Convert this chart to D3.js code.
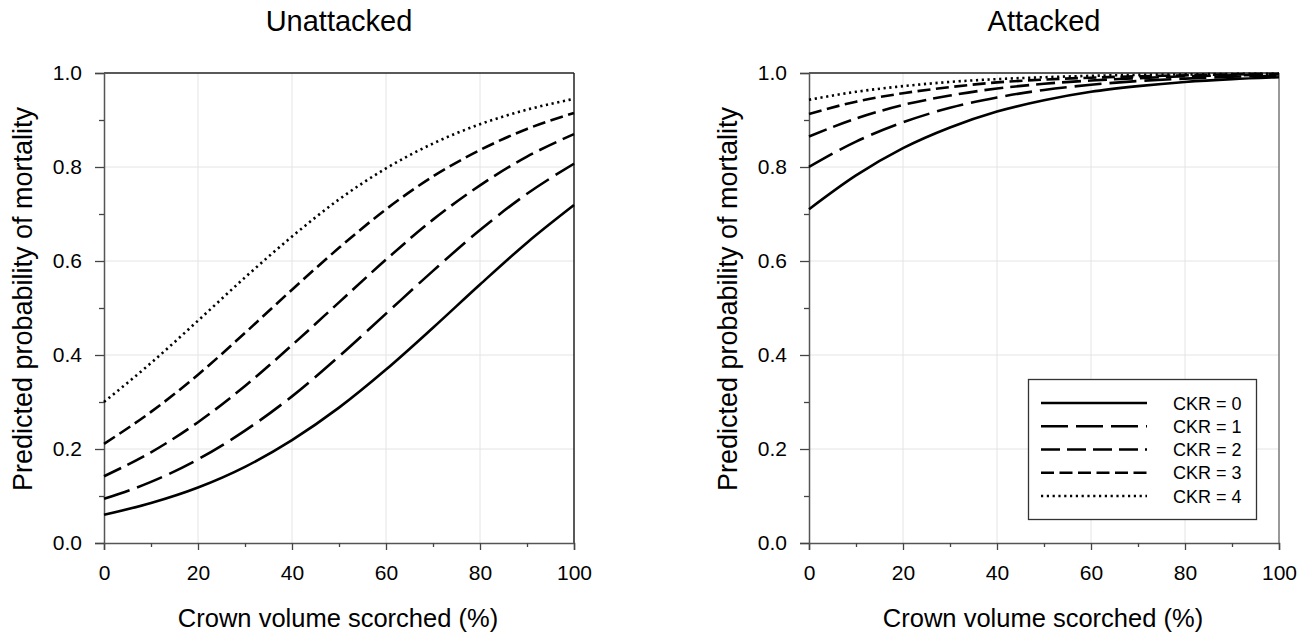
<!DOCTYPE html>
<html>
<head>
<meta charset="utf-8">
<script src="https://cdn.jsdelivr.net/npm/d3@7"></script>
<style>
  html, body { margin: 0; padding: 0; background: #fff; }
  svg { display: block; }
  text { font-family: "Liberation Sans", Arial, sans-serif; fill: #000; }
</style>
</head>
<body>
<svg id="chart" width="1311" height="637"></svg>
<script>
// ---- data ----
const crownScorch = [0, 10, 20, 30, 40, 50, 60, 70, 80, 90, 100];
const ckrLabels = ["CKR = 0", "CKR = 1", "CKR = 2", "CKR = 3", "CKR = 4"];
const panelTitles = ["Unattacked", "Attacked"];
const xTicks = [0, 20, 40, 60, 80, 100];
const yTicks = [0.0, 0.2, 0.4, 0.6, 0.8, 1.0];

const unattackedCKR0 = [0.060, 0.085, 0.118, 0.162, 0.219, 0.288, 0.369, 0.458, 0.550, 0.639, 0.719];
const unattackedCKR1 = [0.094, 0.130, 0.178, 0.239, 0.312, 0.397, 0.488, 0.579, 0.666, 0.743, 0.807];
const unattackedCKR2 = [0.142, 0.193, 0.257, 0.334, 0.421, 0.512, 0.603, 0.688, 0.761, 0.822, 0.870];
const unattackedCKR3 = [0.211, 0.279, 0.358, 0.447, 0.539, 0.628, 0.710, 0.780, 0.836, 0.881, 0.915];
const unattackedCKR4 = [0.300, 0.383, 0.473, 0.565, 0.652, 0.731, 0.797, 0.850, 0.891, 0.922, 0.945];

const attackedCKR0 = [0.710, 0.782, 0.840, 0.884, 0.918, 0.942, 0.960, 0.972, 0.981, 0.987, 0.991];
const attackedCKR1 = [0.800, 0.854, 0.895, 0.926, 0.948, 0.964, 0.975, 0.983, 0.988, 0.992, 0.994];
const attackedCKR2 = [0.865, 0.903, 0.932, 0.952, 0.967, 0.977, 0.984, 0.989, 0.993, 0.995, 0.997];
const attackedCKR3 = [0.913, 0.939, 0.957, 0.970, 0.980, 0.986, 0.990, 0.993, 0.995, 0.997, 0.998];
const attackedCKR4 = [0.943, 0.960, 0.972, 0.981, 0.987, 0.991, 0.994, 0.996, 0.997, 0.998, 0.9985];

const panelSeries = [
  [unattackedCKR0, unattackedCKR1, unattackedCKR2, unattackedCKR3, unattackedCKR4],
  [attackedCKR0, attackedCKR1, attackedCKR2, attackedCKR3, attackedCKR4]
];

// ---- styles ----
const dashes = [null, "27,8", "19,7", "13,5.5", "2.2,3.6"];
const lineW = 2.6;
const tickFont = 21;

const svg = d3.select("#chart");
const panelLeft = [104, 809];
const pw = 470, yTop = 73, yBottom = 543;

panelSeries.forEach((series, p) => {
  const x0 = panelLeft[p];
  const x = d3.scaleLinear().domain([0, 100]).range([x0, x0 + pw]);
  const y = d3.scaleLinear().domain([0, 1]).range([yBottom, yTop]);
  const g = svg.append("g");

  // grid
  g.selectAll(".gx").data([20, 40, 60, 80]).enter().append("line")
    .attr("x1", d => x(d)).attr("x2", d => x(d)).attr("y1", yTop).attr("y2", yBottom)
    .attr("stroke", "#e4e4e4").attr("stroke-width", 1);
  g.selectAll(".gy").data([0.2, 0.4, 0.6, 0.8]).enter().append("line")
    .attr("y1", d => y(d)).attr("y2", d => y(d)).attr("x1", x0).attr("x2", x0 + pw)
    .attr("stroke", "#e4e4e4").attr("stroke-width", 1);

  // frame top/right
  g.append("line").attr("x1", x0).attr("x2", x0 + pw).attr("y1", yTop).attr("y2", yTop)
    .attr("stroke", "#222").attr("stroke-width", 1.5);
  g.append("line").attr("x1", x0 + pw).attr("x2", x0 + pw).attr("y1", yTop).attr("y2", yBottom)
    .attr("stroke", p === 0 ? "#222" : "#777").attr("stroke-width", 1.5);

  // x axis
  const xAxis = d3.axisBottom(x).tickValues(xTicks).tickSize(7).tickPadding(15).tickFormat(d3.format("d"));
  const xMinor = d3.axisBottom(x).tickValues([10, 30, 50, 70, 90]).tickSize(4).tickFormat("");
  const gxA = g.append("g").attr("transform", `translate(0,${yBottom})`).call(xAxis);
  g.append("g").attr("transform", `translate(0,${yBottom})`).call(xMinor).select(".domain").remove();
  gxA.selectAll("text").attr("font-size", tickFont).attr("font-family", "Liberation Sans, Arial, sans-serif").attr("fill", "#000");

  // y axis
  const yAxis = d3.axisLeft(y).tickValues(yTicks).tickSize(9).tickPadding(13).tickFormat(d3.format(".1f"));
  const yMinor = d3.axisLeft(y).tickValues([0.1, 0.3, 0.5, 0.7, 0.9]).tickSize(5).tickFormat("");
  const gyA = g.append("g").attr("transform", `translate(${x0},0)`).call(yAxis);
  g.append("g").attr("transform", `translate(${x0},0)`).call(yMinor).select(".domain").remove();
  gyA.selectAll("text").attr("font-size", tickFont).attr("font-family", "Liberation Sans, Arial, sans-serif").attr("fill", "#000");

  g.selectAll(".domain").attr("stroke", "#555").attr("stroke-width", 1.5);
  g.selectAll(".tick line").attr("stroke", "#444").attr("stroke-width", 1.3);

  // curves
  const line = d3.line().x((d, i) => x(crownScorch[i])).y(d => y(d)).curve(d3.curveMonotoneX);
  series.forEach((vals, k) => {
    g.append("path").attr("d", line(vals)).attr("fill", "none")
      .attr("stroke", "#000").attr("stroke-width", lineW)
      .attr("stroke-dasharray", dashes[k]);
  });

  // title
  svg.append("text").attr("x", x0 + pw / 2).attr("y", 31).attr("text-anchor", "middle")
    .attr("font-size", 29).text(panelTitles[p]);
  // x title
  svg.append("text").attr("x", x0 + pw / 2 - 1).attr("y", 627).attr("text-anchor", "middle")
    .attr("font-size", 25.5).text("Crown volume scorched (%)");
  // y title
  svg.append("text").attr("transform", `translate(${x0 - 72},${(yTop + yBottom) / 2 - 9}) rotate(-90)`)
    .attr("text-anchor", "middle").attr("font-size", 27).text("Predicted probability of mortality");
});

// legend in right panel
const lg = svg.append("g");
lg.append("rect").attr("x", 1028.5).attr("y", 379.5).attr("width", 228).attr("height", 140)
  .attr("fill", "#fff").attr("stroke", "#333").attr("stroke-width", 1.3);
const ly = d3.scalePoint().domain(ckrLabels).range([403, 496]);
ckrLabels.forEach((lab, k) => {
  lg.append("line").attr("x1", 1041).attr("x2", 1147).attr("y1", ly(lab)).attr("y2", ly(lab))
    .attr("stroke", "#000").attr("stroke-width", lineW).attr("stroke-dasharray", dashes[k]);
  lg.append("text").attr("x", 1173).attr("y", ly(lab) + 6.5).attr("font-size", 18).text(lab);
});
</script>
</body>
</html>
